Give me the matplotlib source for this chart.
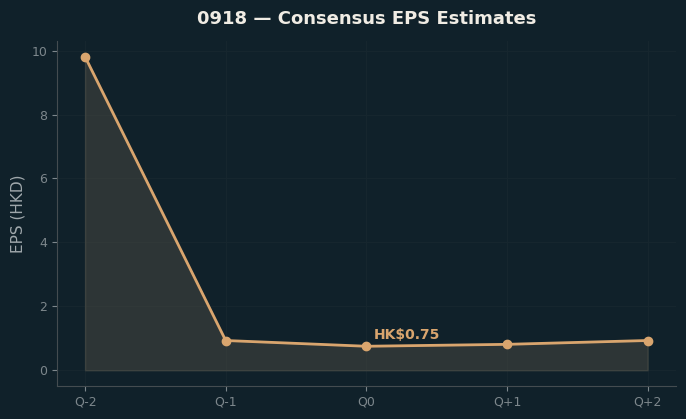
import matplotlib
matplotlib.use("Agg")
import matplotlib.pyplot as plt

# data
quarters = ["Q-2", "Q-1", "Q0", "Q+1", "Q+2"]
eps = [9.81, 0.93, 0.75, 0.81, 0.93]
current_idx = 2

bg = "#10212a"
line_col = "#d9a56e"

fig, ax = plt.subplots(figsize=(6.86, 4.19), dpi=100)
fig.patch.set_facecolor(bg)
ax.set_facecolor(bg)

x = list(range(len(quarters)))
ax.fill_between(x, eps, 0, color="#4a4a42", alpha=0.5, edgecolor="#55554c", linewidth=1)
ax.plot(x, eps, color=line_col, linewidth=2, marker="o", markersize=6)

ax.annotate(f"HK${eps[current_idx]:.2f}", (x[current_idx], eps[current_idx]),
            xytext=(5, 3), textcoords="offset points", color=line_col,
            fontsize=10, fontweight="bold", ha="left", va="bottom")

ax.set_xticks(x)
ax.set_xticklabels(quarters)
ax.set_ylabel("EPS (HKD)", color="#a0a8ac", fontsize=11)
ax.set_title("0918 — Consensus EPS Estimates", color="#f0ece4",
             fontsize=13, fontweight="bold", pad=12)

ax.tick_params(colors="#7d878c", labelsize=9)
for s in ["top", "right"]:
    ax.spines[s].set_visible(False)
for s in ["left", "bottom"]:
    ax.spines[s].set_color("#444c50")
ax.grid(True, color="#16262e", linewidth=0.8)
ax.set_axisbelow(True)

plt.subplots_adjust(left=0.083, right=0.985, top=0.902, bottom=0.079)
plt.savefig("out.png", facecolor=bg)
